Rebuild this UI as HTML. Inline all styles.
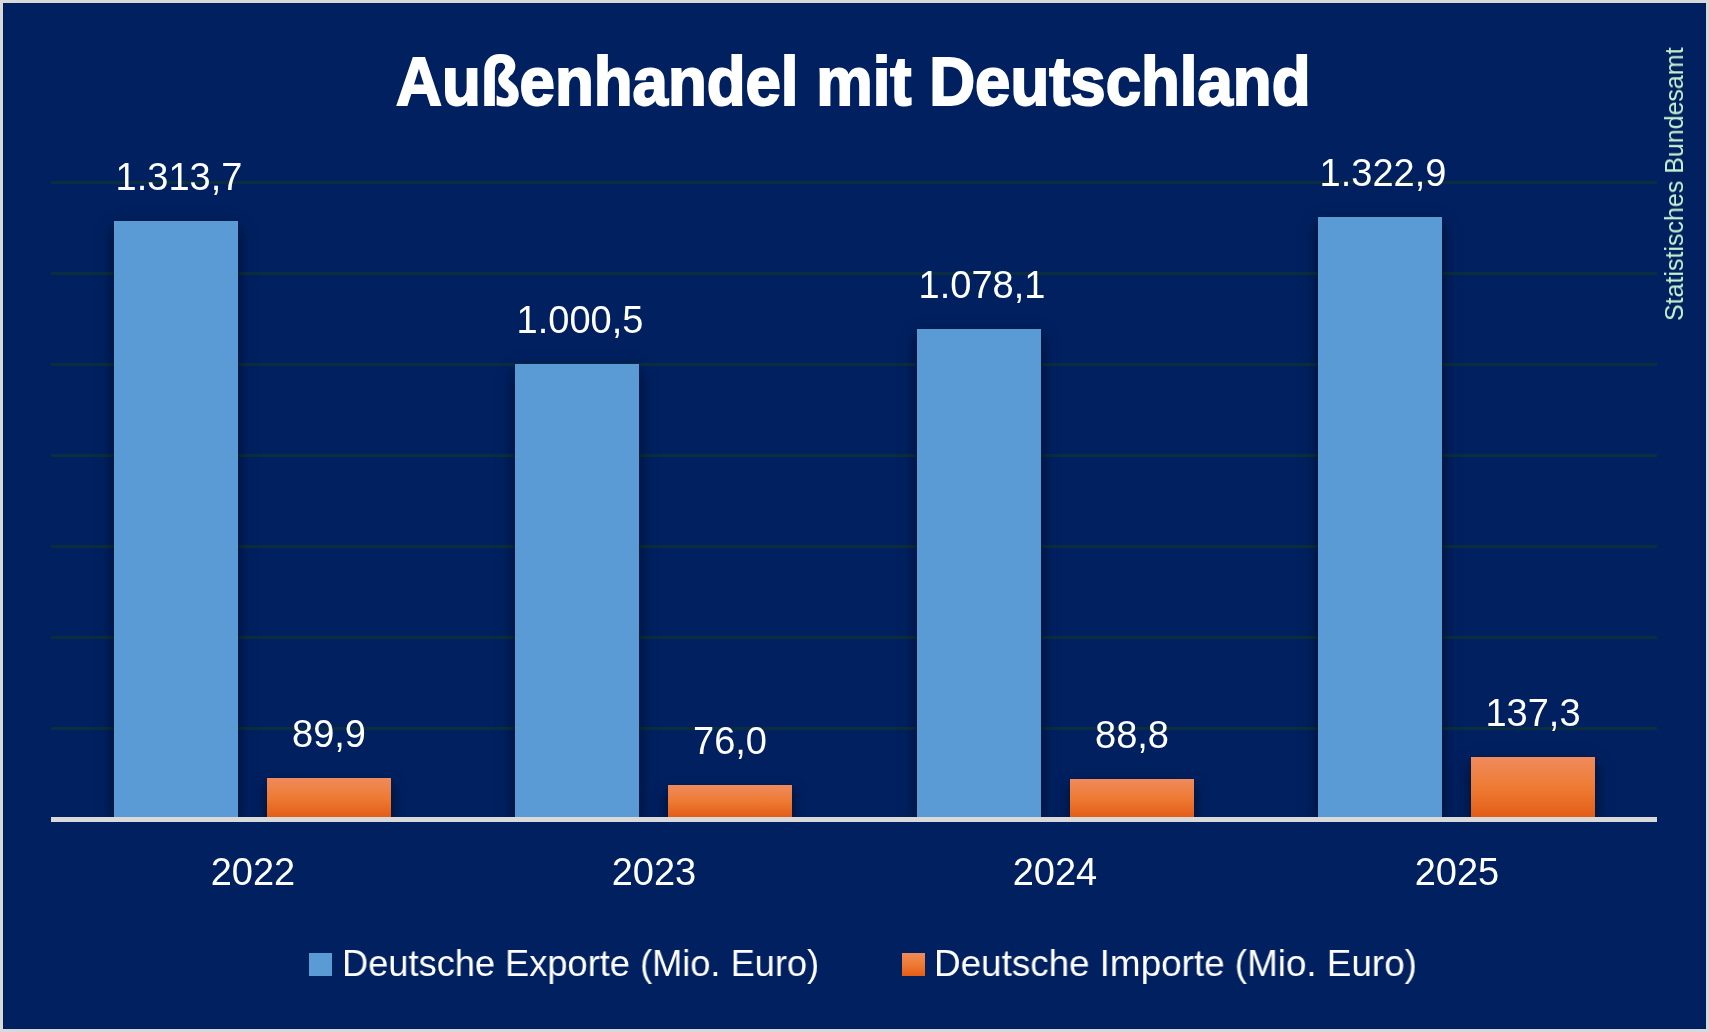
<!DOCTYPE html><html><head><meta charset="utf-8"><style>
html,body{margin:0;padding:0}
body{width:1709px;height:1032px;background:#d9d9d9;position:relative;overflow:hidden;font-family:"Liberation Sans",sans-serif}
.fr{position:absolute;left:3px;top:3px;width:1703px;height:1026px;background:#002060;box-shadow:0 0 1px 0 #000a40 inset}
.g{position:absolute;left:51.3px;width:1606.2px;height:3px;background:#0b2e3f}
.ax{position:absolute;left:51.3px;width:1606.2px;top:817px;height:5px;background:#d9d9d9}
.b{position:absolute;box-shadow:0 6px 14px rgba(0,0,10,0.6)}
.be{background:#5b9bd5}
.bi{background:linear-gradient(#f08a5c,#ee7b34 50%,#e35d17)}
.l{position:absolute;will-change:transform;width:300px;text-align:center;color:#fff;font-size:38px;line-height:1;white-space:nowrap}
.t{position:absolute;will-change:transform;left:-1.25px;width:1709px;text-align:center;color:#fff;font-weight:bold;font-size:68px;-webkit-text-stroke:2px #fff;line-height:1;white-space:nowrap}
.lg{position:absolute;will-change:transform;transform-origin:0 0;color:#fff;font-size:37px;line-height:1;white-space:nowrap}
.sq{position:absolute;width:23px;height:23px}
.v{position:absolute;will-change:transform;color:#c6efce;font-size:26px;line-height:1;white-space:nowrap;transform-origin:0 0;transform:rotate(-90deg) scaleX(0.961)}
</style></head><body><div class="fr"></div>

<div style="position:absolute;left:0;top:0;width:1709px;height:819px;overflow:hidden">
<div class="g" style="top:181px"></div>
<div class="g" style="top:272px"></div>
<div class="g" style="top:363px"></div>
<div class="g" style="top:454px"></div>
<div class="g" style="top:545px"></div>
<div class="g" style="top:636px"></div>
<div class="g" style="top:727px"></div>
<div class="b be" style="left:114.0px;top:221.4px;width:124px;height:595.6px"></div>
<div class="b bi" style="left:267.0px;top:778.2px;width:124px;height:38.8px"></div>
<div class="b be" style="left:515.4px;top:363.9px;width:124px;height:453.1px"></div>
<div class="b bi" style="left:668.4px;top:784.5px;width:124px;height:32.5px"></div>
<div class="b be" style="left:916.8px;top:328.6px;width:124px;height:488.4px"></div>
<div class="b bi" style="left:1069.8px;top:778.7px;width:124px;height:38.3px"></div>
<div class="b be" style="left:1318.2px;top:217.2px;width:124px;height:599.8px"></div>
<div class="b bi" style="left:1471.2px;top:756.6px;width:124px;height:60.4px"></div>
</div><div class="ax"></div>
<div class="l" style="left:29.0px;top:158.4px">1.313,7</div>
<div class="l" style="left:179.0px;top:715.2px">89,9</div>
<div class="l" style="left:102.5px;top:852.8px">2022</div>
<div class="l" style="left:430.4px;top:300.9px">1.000,5</div>
<div class="l" style="left:580.4px;top:721.6px">76,0</div>
<div class="l" style="left:503.9px;top:852.8px">2023</div>
<div class="l" style="left:831.8px;top:265.6px">1.078,1</div>
<div class="l" style="left:981.8px;top:715.7px">88,8</div>
<div class="l" style="left:905.3px;top:852.8px">2024</div>
<div class="l" style="left:1233.2px;top:154.2px">1.322,9</div>
<div class="l" style="left:1383.2px;top:693.7px">137,3</div>
<div class="l" style="left:1306.7px;top:852.8px">2025</div>
<div class="t" style="top:46.7px"><span style="display:inline-block;transform:scaleX(0.9345)">Außenhandel mit Deutschland</span></div>
<div class="sq" style="left:309px;top:953px;background:#5b9bd5"></div>
<div class="lg" style="transform:scaleX(0.979);left:342px;top:944.7px">Deutsche Exporte (Mio. Euro)</div>
<div class="sq" style="left:902px;top:953px;background:linear-gradient(#f08a5c,#ee7b34 50%,#e35d17)"></div>
<div class="lg" style="transform:scaleX(0.995);left:933.5px;top:944.7px">Deutsche Importe (Mio. Euro)</div>
<div class="v" style="left:1661px;top:320.5px">Statistisches Bundesamt</div>
</body></html>
